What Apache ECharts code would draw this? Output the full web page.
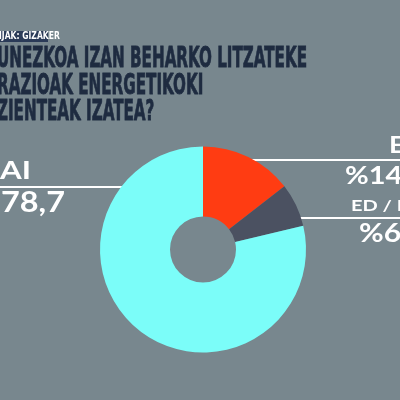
<!DOCTYPE html>
<html><head><meta charset="utf-8">
<style>html,body{margin:0;padding:0;background:#78878e;}#c{width:400px;height:400px;}</style>
<script src="https://cdn.jsdelivr.net/npm/echarts@6/dist/echarts.min.js"></script>
</head><body><div id="c"></div>
<script>
const categories = ['EZ', 'ED / EZ DAKI', 'BAI'];
const values = [14.5, 6.8, 78.7];
const sliceColors = ['#ff3c12', '#4b5161', '#7bfdf9'];
const titleLines = ['UNEZKOA IZAN BEHARKO LITZATEKE', 'RAZIOAK ENERGETIKOKI', 'ZIENTEAK IZATEA?'];
const sourceText = 'IJAK: GIZAKER';

function fmt(v){ return '%' + v.toFixed(1).replace('.', ','); }

const titleFont = 'bold 28px "Liberation Sans Narrow","DejaVu Sans Condensed",sans-serif';
const cv = document.createElement('canvas').getContext('2d');
cv.font = titleFont;
const w1 = cv.measureText(titleLines[0]).width;
const sx = 310 / w1;
const lf = '"Lato","Open Sans",sans-serif';
function measure(t, size){ cv.font = 'bold ' + size + 'px ' + lf; return cv.measureText(t).width; }

const chart = echarts.init(document.getElementById('c'), null, {renderer: 'canvas'});
const graphics = [];
// source tag
graphics.push({type: 'rect', shape: {x: 0, y: 31, width: 48, height: 11}, style: {fill: '#2b3b58'}});
graphics.push({type: 'text', x: -1, y: 36.5, scaleX: 0.85, style: {text: sourceText, fill: '#ffffff', font: 'bold 10px "Liberation Sans Narrow","DejaVu Sans Condensed",sans-serif', verticalAlign: 'middle'}});
// title
titleLines.forEach((t, i) => {
  graphics.push({type: 'text', x: -3, y: 60 + i * 26.3, scaleX: sx, style: {text: t, fill: '#1e2b40', stroke: '#1e2b40', lineWidth: 0.8, font: titleFont, verticalAlign: 'middle'}});
});
// horizontal scales of label font, fitted to the visible parts of the BAI label
const valScale = 64 / measure(fmt(values[2]).slice(1), 28);
const nameScale = 31 / measure(categories[2].slice(1), 25);
const lab = [
  {name: {x: 389, y: 145.5, size: 22, align: 'left'}, val: {x: 345, y: 176, size: 25, align: 'left'}, line: [245, 400, 160]},
  {name: {x: 351, y: 206, size: 16, align: 'left'}, val: {x: 359, y: 233.5, size: 26, align: 'left'}, line: [288, 400, 218]},
  {name: {x: 31, y: 171, size: 25, align: 'right'}, val: {x: 65, y: 202.5, size: 28, align: 'right'}, line: [0, 140, 187]}
];
categories.forEach((c, i) => {
  const L = lab[i];
  graphics.push({type: 'text', x: L.name.x, y: L.name.y, scaleX: nameScale, originX: 0, style: {text: c, fill: '#ffffff', font: 'bold ' + L.name.size + 'px ' + lf, verticalAlign: 'middle', align: L.name.align}});
  graphics.push({type: 'text', x: L.val.x, y: L.val.y, scaleX: valScale, originX: 0, style: {text: fmt(values[i]), fill: '#ffffff', font: 'bold ' + L.val.size + 'px ' + lf, verticalAlign: 'middle', align: L.val.align}});
  graphics.push({type: 'line', shape: {x1: L.line[0], y1: L.line[2], x2: L.line[1], y2: L.line[2]}, style: {stroke: '#ffffff', lineWidth: 2}});
});

chart.setOption({
  backgroundColor: '#78878e',
  animation: false,
  series: [{
    type: 'pie',
    center: [203, 249.5],
    radius: [33, 103],
    startAngle: 90,
    clockwise: true,
    label: {show: false},
    labelLine: {show: false},
    emphasis: {disabled: true},
    itemStyle: {borderWidth: 0},
    data: categories.map((c, i) => ({name: c, value: values[i], itemStyle: {color: sliceColors[i]}}))
  }],
  graphic: graphics
});
</script></body></html>
